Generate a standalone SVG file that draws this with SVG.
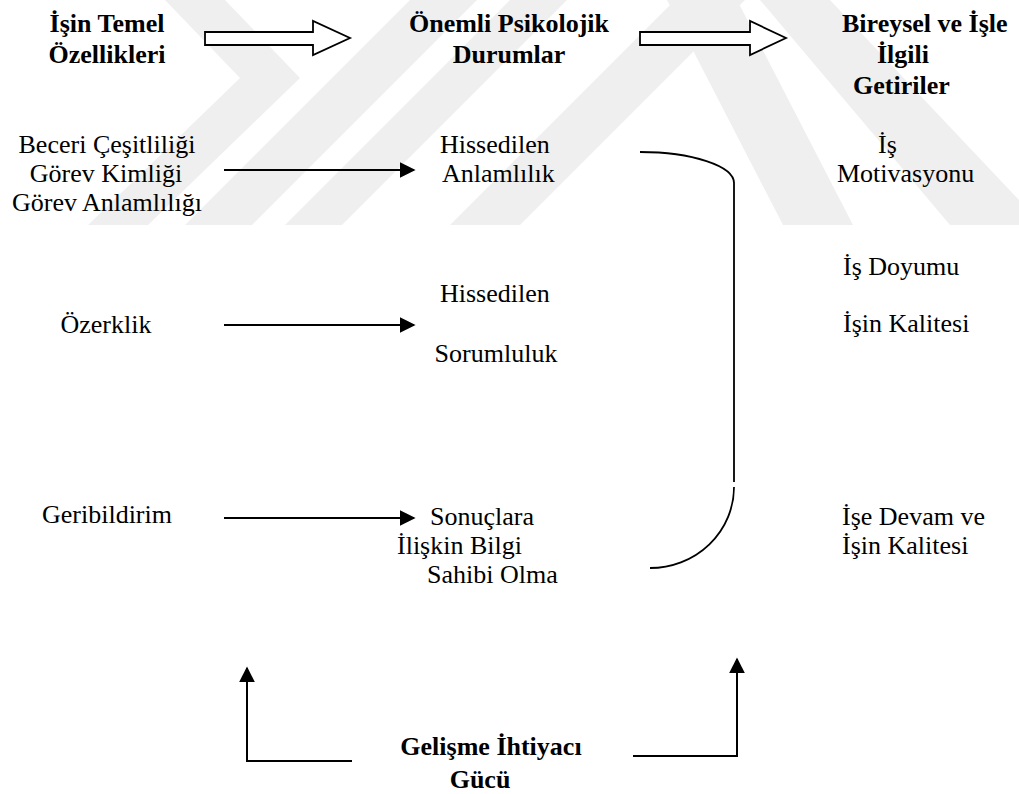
<svg xmlns="http://www.w3.org/2000/svg" width="1019" height="794" viewBox="0 0 1019 794">
  <defs>
    <marker id="headL" viewBox="0 0 10 10" refX="9" refY="5" markerWidth="16" markerHeight="16" markerUnits="userSpaceOnUse" orient="auto">
      <path d="M0,0 L10,5 L0,10 Z" fill="#000"/>
    </marker>
  </defs>
  <style>
    .t { font-family: "Liberation Serif", "Times New Roman", serif; font-size: 26px; fill: #000; }
    .b { font-weight: bold; }
    .c { text-anchor: middle; }
    .wm { fill: #efefef; stroke: none; }
    .blk { fill: #fff; stroke: #000; stroke-width: 1.8; stroke-linejoin: miter; }
    .ln { fill: none; stroke: #000; stroke-width: 2; }
    .arc { fill: none; stroke: #000; stroke-width: 1.8; }
  </style>
  <rect width="1019" height="794" fill="#fff"/>

  <!-- faint background emblem -->
  <g id="emblem">
    <polygon class="wm" points="165,0 225,0 300,78 148,225 88,225 240,78"/>
    <polygon class="wm" points="185,225 252,225 477,0 410,0"/>
    <polygon class="wm" points="285,225 342,225 567,0 510,0"/>
    <polygon class="wm" points="450,225 520,225 745,0 675,0"/>
    <polygon class="wm" points="667,0 737,0 853,225 783,225"/>
    <polygon class="wm" points="760,0 830,0 1019,200 1019,225 950,225"/>
  </g>

  <!-- column headers -->
  <g id="hdr-features">
    <text class="t b c" x="107" y="32">İşin Temel</text>
    <text class="t b c" x="107" y="63">Özellikleri</text>
  </g>
  <g id="hdr-states">
    <text class="t b c" x="509" y="32">Önemli Psikolojik</text>
    <text class="t b c" x="509" y="63">Durumlar</text>
  </g>
  <g id="hdr-outcomes">
    <text class="t b" x="842" y="32">Bireysel ve İşle</text>
    <text class="t b" x="877" y="63">İlgili</text>
    <text class="t b" x="853" y="94">Getiriler</text>
  </g>

  <!-- core job dimensions -->
  <g id="dim-skill">
    <text class="t c" x="107" y="153">Beceri Çeşitliliği</text>
    <text class="t c" x="106" y="182">Görev Kimliği</text>
    <text class="t c" x="107" y="211">Görev Anlamlılığı</text>
  </g>
  <g id="dim-autonomy">
    <text class="t c" x="106" y="333">Özerklik</text>
  </g>
  <g id="dim-feedback">
    <text class="t c" x="107" y="523">Geribildirim</text>
  </g>

  <!-- critical psychological states -->
  <g id="state-meaning">
    <text class="t" x="440" y="153">Hissedilen</text>
    <text class="t" x="442" y="182">Anlamlılık</text>
  </g>
  <g id="state-responsibility">
    <text class="t" x="440" y="302">Hissedilen</text>
    <text class="t c" x="496" y="362">Sorumluluk</text>
  </g>
  <g id="state-knowledge">
    <text class="t" x="430" y="525">Sonuçlara</text>
    <text class="t" x="397" y="554">İlişkin Bilgi</text>
    <text class="t" x="427" y="583">Sahibi Olma</text>
  </g>

  <!-- outcomes -->
  <g id="out-motivation">
    <text class="t" x="878" y="153">İş</text>
    <text class="t" x="837" y="182">Motivasyonu</text>
  </g>
  <g id="out-satisfaction">
    <text class="t" x="843" y="275">İş Doyumu</text>
  </g>
  <g id="out-quality">
    <text class="t" x="843" y="332">İşin Kalitesi</text>
  </g>
  <g id="out-attendance">
    <text class="t" x="842" y="525">İşe Devam ve</text>
    <text class="t" x="842" y="554">İşin Kalitesi</text>
  </g>

  <!-- moderator -->
  <g id="moderator">
    <text class="t b c" x="491" y="755">Gelişme İhtiyacı</text>
    <text class="t b c" x="480" y="788">Gücü</text>
  </g>

  <!-- connectors -->
  <g id="connectors">
    <polygon class="blk" points="205,32 313,32 313,21 350,38 313,55 313,45 205,45"/>
    <polygon class="blk" points="640,32 750,32 750,21 786,38 750,55 750,45 640,45"/>

    <line class="ln" x1="224" y1="170" x2="414" y2="170" marker-end="url(#headL)"/>
    <line class="ln" x1="224" y1="325" x2="414" y2="325" marker-end="url(#headL)"/>
    <line class="ln" x1="224" y1="518" x2="414" y2="518" marker-end="url(#headL)"/>

    <path class="arc" d="M640,152 A94,31 0 0 1 734,183 L734,482"/>
    <path class="arc" d="M734,487 A84,81 0 0 1 650,568"/>

    <polyline class="ln" points="352,761 247,761 247,668" marker-end="url(#headL)"/>
    <polyline class="ln" points="633,756 737,756 737,659" marker-end="url(#headL)"/>
  </g>
</svg>
